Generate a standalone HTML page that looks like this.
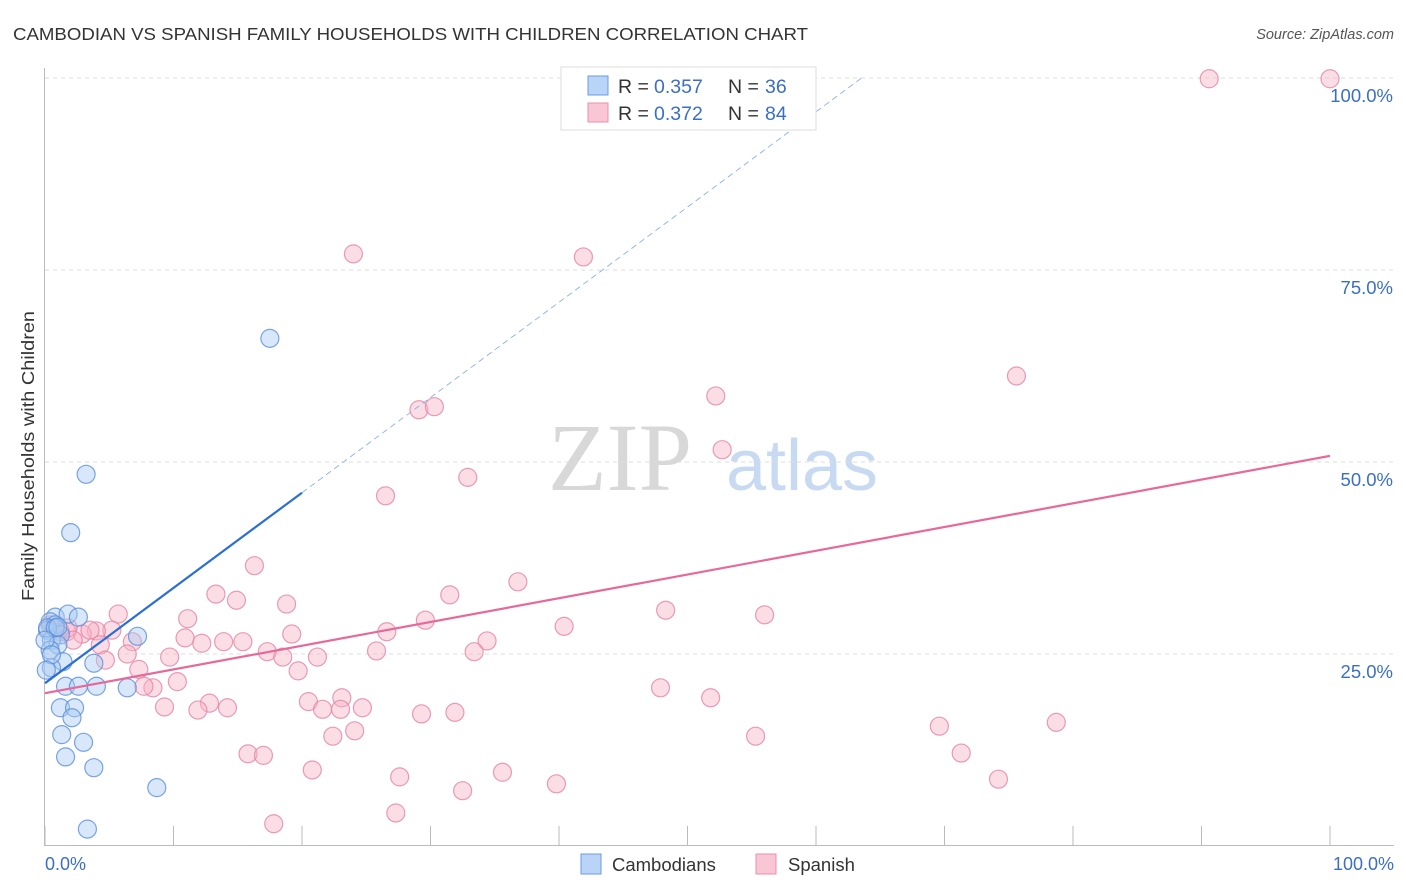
<!DOCTYPE html>
<html><head><meta charset="utf-8"><style>
body{margin:0;background:#fff;font-family:"Liberation Sans",sans-serif}
svg{display:block}
</style></head><body>
<svg id="chart" width="1406" height="892" xmlns="http://www.w3.org/2000/svg">
<text x="13" y="40" font-size="17.5" fill="#333" textLength="795" lengthAdjust="spacingAndGlyphs">CAMBODIAN VS SPANISH FAMILY HOUSEHOLDS WITH CHILDREN CORRELATION CHART</text>
<text x="1394" y="39" font-size="14.5" fill="#555" font-style="italic" text-anchor="end">Source: ZipAtlas.com</text>
<text x="620" y="490" font-size="96" fill="#d8d8d8" font-family="Liberation Serif,serif" text-anchor="middle">ZIP</text>
<text x="802" y="490" font-size="72" fill="#c8daf2" text-anchor="middle">atlas</text>
<g id="grid"></g>
<g id="axes"></g>
<g id="marks"></g>
<text transform="translate(34,456) rotate(-90)" font-size="17.5" fill="#333" text-anchor="middle" textLength="290" lengthAdjust="spacingAndGlyphs">Family Households with Children</text>
<text x="45" y="870" font-size="18" fill="#3a6fc4">0.0%</text>
<text x="1394" y="870" font-size="18" fill="#3a6fc4" text-anchor="end">100.0%</text>
<g>
<rect x="581" y="854" width="20" height="20" fill="#b9d4f6" stroke="#6b9be0"/>
<text x="612" y="871" font-size="18.5" fill="#333">Cambodians</text>
<rect x="756" y="854" width="20" height="20" fill="#f9c6d5" stroke="#e890ac"/>
<text x="788" y="871" font-size="18.5" fill="#333">Spanish</text>
</g>
<g font-size="19.5">
<rect x="561" y="67" width="255" height="63" fill="#fff" stroke="#ddd"/>
<rect x="588" y="76" width="20" height="19" fill="#b9d4f6" stroke="#6b9be0"/>
<rect x="588" y="103" width="20" height="19" fill="#f9c6d5" stroke="#e890ac"/>
<text x="618" y="93" fill="#333">R =</text>
<text x="654" y="93" fill="#3a6fc4">0.357</text>
<text x="728" y="93" fill="#333">N =</text>
<text x="765" y="93" fill="#3a6fc4">36</text>
<text x="618" y="120" fill="#333">R =</text>
<text x="654" y="120" fill="#3a6fc4">0.372</text>
<text x="728" y="120" fill="#333">N =</text>
<text x="765" y="120" fill="#3a6fc4">84</text>
</g>
</svg>
<script>
const yTicks=[25,50,75,100];
const yTickLabels=["25.0%","50.0%","75.0%","100.0%"];
const xTicks=[0,10,20,30,40,50,60,70,80,90,100];
const cambX=[0.8,1.8,2.6,0.4,0.8,0.2,1.2,0.5,1.0,0.4,1.4,0.5,3.8,7.2,1.6,2.6,4.0,6.4,17.5,3.2,2.0,1.2,2.3,2.1,3.0,1.3,1.6,3.8,8.7,3.3,0.2,0.8,0.0,0.5,1.0,0.1];
const cambY=[29.8,30.2,29.8,29.2,28.8,28.1,27.5,26.8,26.2,25.5,24.0,23.2,23.8,27.3,20.8,20.8,20.8,20.6,66.1,48.4,40.8,18.0,18.0,16.7,13.5,14.5,11.6,10.2,7.6,2.2,28.4,28.4,26.8,24.9,28.5,22.9];
const spanX=[90.6,100,24.0,41.9,75.6,52.2,29.1,30.3,52.7,32.9,26.5,16.3,36.8,13.3,14.9,18.8,31.5,5.7,11.1,48.3,56.0,29.6,40.4,26.6,19.2,5.2,4.0,2.9,1.7,0.4,0.8,1.2,10.9,12.2,13.9,15.4,6.8,4.3,6.4,17.3,18.5,21.2,25.8,34.4,33.4,4.7,9.7,19.7,7.3,10.3,8.4,7.7,47.9,51.8,20.5,23.1,12.8,9.3,11.9,14.2,21.6,23.0,24.7,29.3,31.9,22.4,24.1,55.3,69.6,78.7,15.8,17.0,20.8,27.6,35.6,71.3,74.2,39.8,32.5,27.3,17.8,1.8,2.2,3.5];
const spanY=[99.9,99.9,77.1,76.7,61.2,58.6,56.8,57.2,51.6,48.0,45.6,36.5,34.4,32.8,32.0,31.5,32.7,30.2,29.6,30.7,30.1,29.4,28.6,27.9,27.6,28.1,28.0,27.6,27.9,28.8,28.4,27.9,27.1,26.4,26.6,26.6,26.6,26.2,25.0,25.3,24.6,24.6,25.4,26.7,25.3,24.2,24.6,22.8,23.0,21.4,20.6,20.8,20.6,19.3,18.8,19.3,18.6,18.1,17.7,18.0,17.8,17.8,18.0,17.2,17.4,14.3,15.0,14.3,15.6,16.1,12.0,11.8,9.9,9.0,9.6,12.1,8.7,8.1,7.2,4.3,2.9,28.4,26.8,28.1];
const cambFit=[21.2,1.24];
const spanFit=[19.9,0.309];
const NS="http://www.w3.org/2000/svg";
const X=v=>45+v*12.85, Y=v=>846-v*7.68;
function mk(t,a,p){const e=document.createElementNS(NS,t);for(const k in a)e.setAttribute(k,a[k]);p.appendChild(e);return e;}
const grid=document.getElementById('grid'),axes=document.getElementById('axes'),marks=document.getElementById('marks');
yTicks.forEach((t,i)=>{
 const l=mk('line',{x1:45,x2:1394,y1:Y(t),y2:Y(t),stroke:'#ddd','stroke-dasharray':'4,4'},grid);
 
 
 const tx=mk('text',{x:1393,y:Y(t)+24,'font-size':18.5,fill:'#3a6fc4','text-anchor':'end'},axes);
 tx.textContent=yTickLabels[i];
 
 
});
const ya=mk('line',{x1:44.5,x2:44.5,y1:68,y2:846,stroke:'#bbb'},axes);


const xa=mk('line',{x1:45,x2:1394,y1:845.5,y2:845.5,stroke:'#bbb'},axes);


xTicks.forEach(t=>{const l=mk('line',{x1:X(t),x2:X(t),y1:826,y2:846,stroke:'#bbb'},axes);
 
 });
function dots(xs,ys,fill,stroke,name){xs.forEach((x,i)=>{
 const c=mk('circle',{cx:X(x),cy:Y(ys[i]),r:9,fill:fill,'fill-opacity':0.45,stroke:stroke,'stroke-width':1.2,'stroke-opacity':0.8},marks);
 
 });}
dots(spanX,spanY,'#f7b3c8','#e583a4','spanish-point');
dots(cambX,cambY,'#a9c9f1','#5a8fdb','cambodian-point');
const f=(p,x)=>p[0]+p[1]*x;
const pl=mk('line',{x1:X(0),y1:Y(f(spanFit,0)),x2:X(100),y2:Y(f(spanFit,100)),stroke:'#e8689a','stroke-width':2.2},marks);


const bl=mk('line',{x1:X(0),y1:Y(f(cambFit,0)),x2:X(20),y2:Y(f(cambFit,20)),stroke:'#2a6fd6','stroke-width':2.2},marks);


const xe=(100-cambFit[0])/cambFit[1];
const bd=mk('line',{x1:X(20),y1:Y(f(cambFit,20)),x2:X(xe),y2:Y(100),stroke:'#8ab0e8','stroke-width':0.9,'stroke-dasharray':'6,4'},marks);


</script>
</body></html>
